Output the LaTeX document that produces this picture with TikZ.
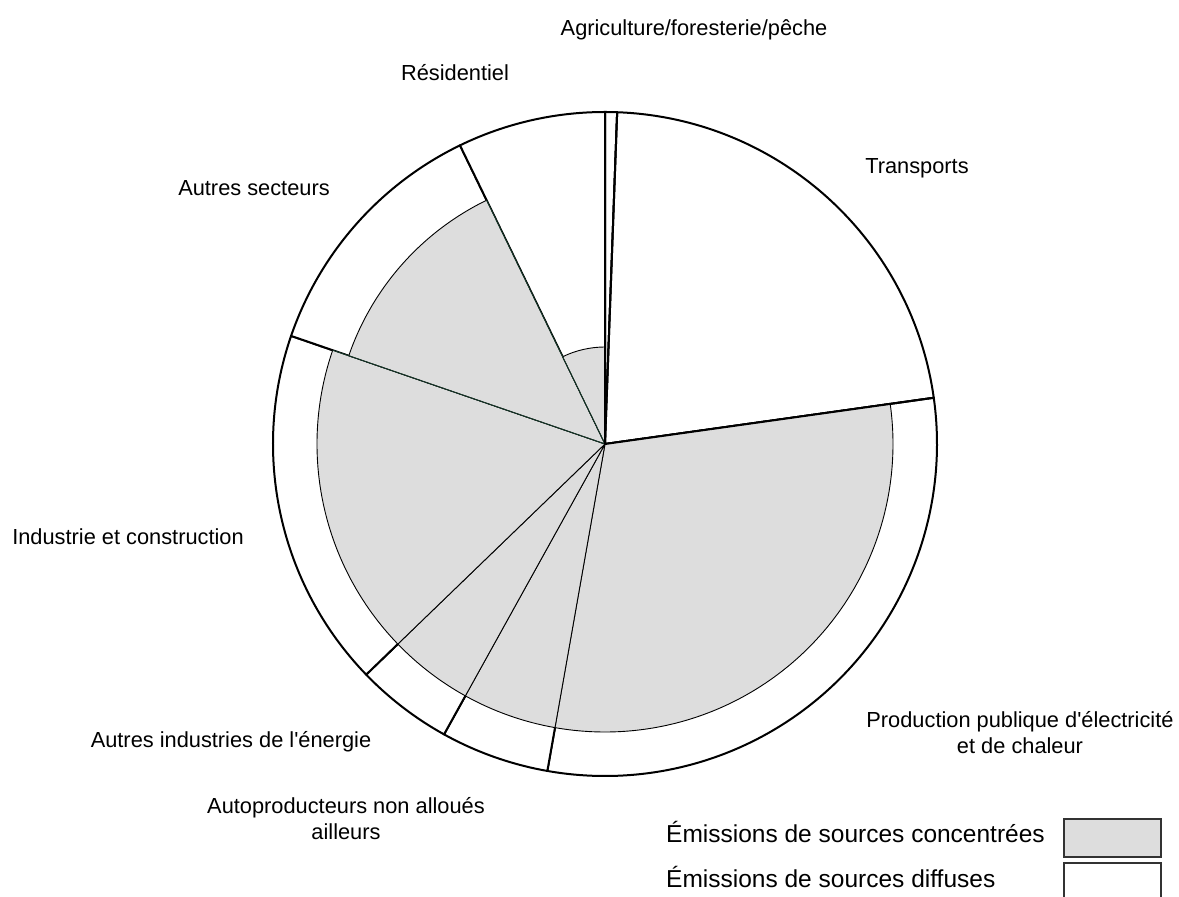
\documentclass[tikz,border=0pt]{standalone}
\usepackage{fontspec}
\setmainfont{Liberation Sans}
\usetikzlibrary{calc}
\definecolor{concgray}{RGB}{221,221,221}
\definecolor{edgegreen}{RGB}{20,55,40}
\definecolor{legframe}{RGB}{50,50,50}
\begin{document}
\begin{tikzpicture}[x=1pt,y=1pt,
  outersector/.style={fill=white,draw=black,line width=2pt,line join=round},
  innersector/.style={fill=concgray,draw=black,line width=0.9pt,line join=round},
  radial/.style={draw=black,line width=2pt,line cap=round},
  lbl/.style={font=\fontsize{21.8}{26}\selectfont,align=center,inner sep=0pt,anchor=base},
  leg/.style={font=\fontsize{24.5}{29}\selectfont,inner sep=0pt,anchor=base west},
  legbox/.style={draw=legframe,line width=1.5pt},
]
\useasboundingbox (0,0) rectangle (1179,897);
\coordinate (O) at (605,453);

% total emissions per sector (full radius)
\foreach \a/\b in {87.9/90, 8/87.9, -100/8, -119/-100, -136/-119,
                   -199/-136, -244.1/-199, -270/-244.1}
  \draw[outersector] (O) -- ++(\a:332) arc[start angle=\a, end angle=\b, radius=332] -- cycle;

% concentrated sources (shaded, reduced radius)
\foreach \a/\b/\r in {-100/8/288, -119/-100/288, -136/-119/288, -199/-136/288,
                      -244.1/-199/271, -270/-244.1/97}
  \draw[innersector] (O) -- ++(\a:\r) arc[start angle=\a, end angle=\b, radius=\r] -- cycle;

% edges of the "Autres secteurs" shaded wedge
\draw[edgegreen,line width=0.9pt] ($(O)+(161:288)$) -- (O) -- ($(O)+(115.9:271)$);

% boundaries of the unshaded wedges
\draw[radial] (O) -- ++(8:332);
\draw[radial] (O) -- ++(87.9:332);
\draw[radial] (O) -- ++(90:332);

% sector labels (two-line labels are placed by their last baseline)
\node[lbl] (agri) at (694,861) {Agriculture/foresterie/pêche};
\node[lbl] (resi) at (455,816) {Résidentiel};
\node[lbl] (tran) at (917,723.5) {Transports};
\node[lbl] (autsec) at (254,701.5) {Autres secteurs};
\node[lbl] (indu) at (128,352.5) {Industrie et construction};
\node[lbl] (prod) at (1020,143.5) {Production publique d\textquotesingle électricité\\et de chaleur};
\node[lbl] (autind) at (231,149.5) {Autres industries de l\textquotesingle énergie};
\node[lbl] (autop) at (346,57.5) {Autoproducteurs non alloués\\ailleurs};

% legend
\node[leg] (legc) at (666,54) {Émissions de sources concentrées};
\node[leg] (legd) at (666,9) {Émissions de sources diffuses};
\draw[legbox,fill=concgray] (1064,40) rectangle (1161,78);
\draw[legbox] (1064,-5) |- (1161,34) -- (1161,-5);
\end{tikzpicture}
\end{document}
